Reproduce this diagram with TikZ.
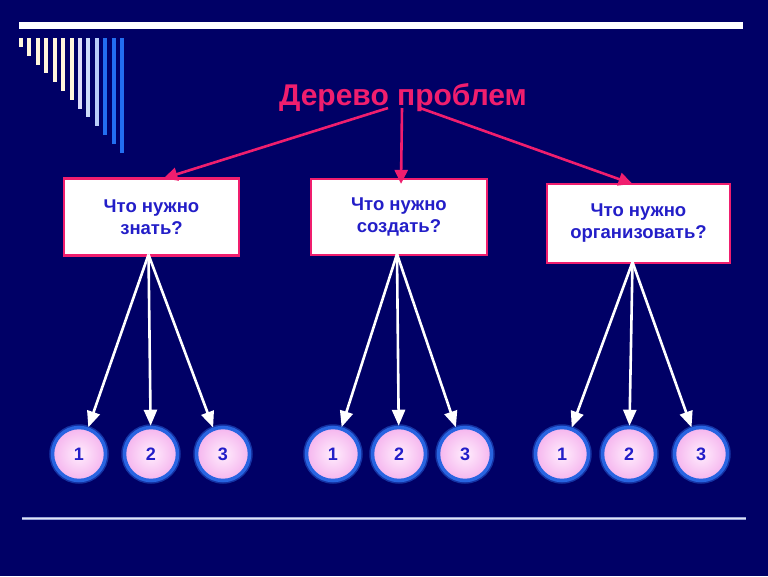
\documentclass[tikz,border=0pt]{standalone}
\usepackage{fontspec}
\setmainfont{Liberation Sans}
\usetikzlibrary{arrows.meta,calc}
\definecolor{bg}{RGB}{0,0,102}
\definecolor{pinkred}{RGB}{240,30,110}
\definecolor{textblue}{RGB}{35,30,200}
\definecolor{cream}{RGB}{255,246,220}
\definecolor{lblueA}{RGB}{222,222,250}
\definecolor{lblueB}{RGB}{205,220,250}
\definecolor{lblueC}{RGB}{185,205,248}
\definecolor{brightblue}{RGB}{35,110,240}
\definecolor{ringblue}{RGB}{40,100,225}
\definecolor{pinkin}{RGB}{255,238,253}
\definecolor{pinkout}{RGB}{245,180,238}
\definecolor{lineblue}{RGB}{150,160,215}
\begin{document}
\begin{tikzpicture}[x=1pt,y=-1pt,
  qbox/.style={draw=pinkred, line width=2.2pt, fill=white, rectangle,
    font=\bfseries\fontsize{18.5}{22}\selectfont, text=textblue, align=center, inner sep=0pt},
  numcirc/.style={circle, minimum size=53pt, inner sep=0pt, draw=ringblue, line width=3.5pt,
    inner color=pinkin, outer color=pinkout,
    font=\bfseries\fontsize{18}{20}\selectfont, text=textblue},
  glow/.style={draw=ringblue!50!bg, line width=2.5pt},
  parrow/.style={draw=pinkred, line width=2.6pt, -{Triangle[length=14pt,width=13pt]}},
  warrow/.style={draw=white, line width=2.6pt, -{Triangle[length=16pt,width=13pt]}}
]
\fill[bg] (0,0) rectangle (768,576);
\useasboundingbox (0,0) rectangle (768,576);

% top white bar
\fill[white] (19,22) rectangle (743,29);

% decorative vertical bars
\foreach \i/\c in {0/cream,1/cream,2/cream,3/cream,4/cream,5/cream,6/cream,7/lblueA,8/lblueB,9/lblueC,10/brightblue,11/brightblue,12/brightblue}{
  \fill[\c] ({21+8.42*\i-2},38) rectangle ({21+8.42*\i+2},{47+8.8*\i});
}

% bottom line
\draw[lineblue, line width=3pt] (22,518) -- (746,518);
\draw[white!70!lineblue, line width=0.8pt] (22,518) -- (746,518);

% title
\node[anchor=base, text=pinkred, font=\bfseries\fontsize{30}{32}\selectfont] (title) at (403,105) {Дерево проблем};

% boxes
\node[qbox, minimum width=175pt, minimum height=77pt] (box1) at (151.5,217) {Что нужно\\знать?};
\node[qbox, minimum width=176pt, minimum height=76pt] (box2) at (399,217) {Что нужно\\создать?};
\node[qbox, minimum width=183pt, minimum height=79pt] (box3) at (638.5,223.5) {Что нужно\\организовать?};

% circles
\foreach \x in {79,151,223,333,399,465,562,629,701}{
  \draw[glow] (\x,454) circle (28.5pt);
}
\node[numcirc] (a1) at (79,454) {1};
\node[numcirc] (a2) at (151,454) {2};
\node[numcirc] (a3) at (223,454) {3};
\node[numcirc] (b1) at (333,454) {1};
\node[numcirc] (b2) at (399,454) {2};
\node[numcirc] (b3) at (465,454) {3};
\node[numcirc] (c1) at (562,454) {1};
\node[numcirc] (c2) at (629,454) {2};
\node[numcirc] (c3) at (701,454) {3};

% pink arrows from title
\coordinate (tl) at (388,108);
\coordinate (tc) at (402,108);
\coordinate (tr) at (420,108);
\draw[parrow] (tl) -- ([xshift=12pt,yshift=-1pt]box1.north);
\draw[parrow] (tc) -- ([xshift=2pt,yshift=-6pt]box2.north);
\draw[parrow] (tr) -- ([xshift=-6pt,yshift=-1pt]box3.north);

% white arrows to circles
\coordinate (s1) at ([xshift=-3pt,yshift=2pt]box1.south);
\coordinate (s2) at ([xshift=-2pt,yshift=2pt]box2.south);
\coordinate (s3) at ([xshift=-6pt,yshift=2pt]box3.south);
\draw[warrow] (s1) -- (a1);
\draw[warrow] (s1) -- (a2);
\draw[warrow] (s1) -- (a3);
\draw[warrow] (s2) -- (b1);
\draw[warrow] (s2) -- (b2);
\draw[warrow] (s2) -- (b3);
\draw[warrow] (s3) -- (c1);
\draw[warrow] (s3) -- (c2);
\draw[warrow] (s3) -- (c3);
\end{tikzpicture}
\end{document}
